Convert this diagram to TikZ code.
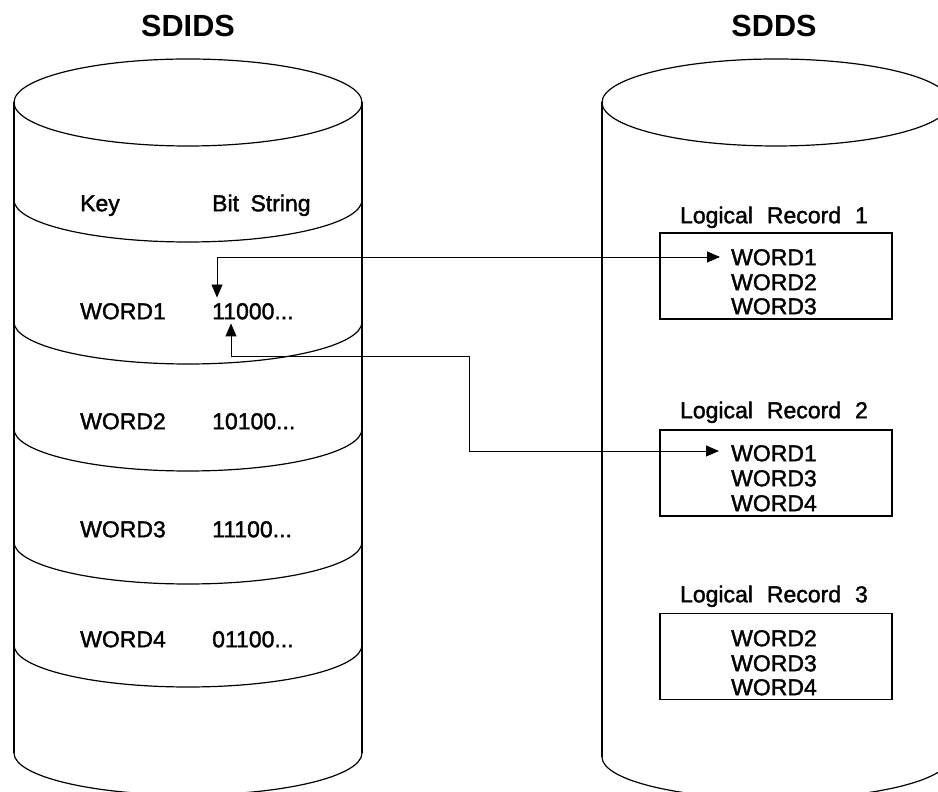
\documentclass[tikz,border=0pt]{standalone}
\usepackage{fontspec}
\setmainfont{Liberation Sans}
\newfontfamily\bodyfont{Liberation Sans}[FakeBold=1.6]
\usetikzlibrary{arrows.meta}
\begin{document}
\begin{tikzpicture}[x=1pt,y=1pt,
  cyl/.style={line width=1.2pt},
  recbox/.style={draw, line width=1.1pt, minimum width=232pt, minimum height=86pt, inner sep=0pt},
  title/.style={font=\fontsize{30.6}{32}\selectfont\bfseries, inner sep=0pt, text height=22pt, text depth=0pt},
  txt/.style={font=\bodyfont\fontsize{23}{25}\selectfont, inner sep=0pt, text height=16.5pt, text depth=0pt},
  link/.style={line width=0.9pt, {Triangle[length=13pt,width=11pt]}-{Triangle[length=13pt,width=11pt]}},
]
\useasboundingbox (0,0) rectangle (938,792);
\clip (0,0) rectangle (938,792);

% titles
\node[title] (tl) at (188,766) {SDIDS};
\node[title] (tr) at (774,766) {SDDS};

% left cylinder (index set)
\draw[cyl] (188,689.5) ellipse[x radius=174pt, y radius=43.5pt];
\draw[cyl] (14,689.5) -- (14,39);
\draw[cyl] (362,689.5) -- (362,39);
\foreach \yy in {592,470,363,250,147,39}
  \draw[cyl] (14,\yy) arc[start angle=180, end angle=360, x radius=174pt, y radius=42pt];

% right cylinder (data set)
\draw[cyl] (776,689.5) ellipse[x radius=174pt, y radius=43.5pt];
\draw[cyl] (602,689.5) -- (602,35);
\draw[cyl] (950,689.5) -- (950,35);
\draw[cyl] (602,35) arc[start angle=180, end angle=360, x radius=174pt, y radius=42pt];

% index rows
\node[txt, anchor=west] (kh) at (80,589) {Key};
\node[txt, anchor=west] (bh) at (212,589) {Bit\hspace{11.5pt}String};
\node[txt, anchor=west] (k1) at (80,481) {WORD1};
\node[txt, anchor=west] (b1) at (212,481) {11000...};
\node[txt, anchor=west] (k2) at (80,371) {WORD2};
\node[txt, anchor=west] (b2) at (212,371) {10100...};
\node[txt, anchor=west] (k3) at (80,263) {WORD3};
\node[txt, anchor=west] (b3) at (212,263) {11100...};
\node[txt, anchor=west] (k4) at (80,153) {WORD4};
\node[txt, anchor=west] (b4) at (212,153) {01100...};

% logical records
\node[txt] (l1) at (774,577) {Logical\hspace{14pt}Record\hspace{14pt}1};
\node[recbox] (rec1) at (776,516) {};
\node[txt] (r1a) at (774,535) {WORD1};
\node[txt] (r1b) at (774,510) {WORD2};
\node[txt] (r1c) at (774,486) {WORD3};

\node[txt] (l2) at (774,382) {Logical\hspace{14pt}Record\hspace{14pt}2};
\node[recbox] (rec2) at (776,319) {};
\node[txt] (r2a) at (774,339) {WORD1};
\node[txt] (r2b) at (774,314) {WORD3};
\node[txt] (r2c) at (774,289) {WORD4};

\node[txt] (l3) at (774,198) {Logical\hspace{14pt}Record\hspace{14pt}3};
\node[recbox] (rec3) at (776,135.5) {};
\node[txt] (r3a) at (774,154) {WORD2};
\node[txt] (r3b) at (774,129) {WORD3};
\node[txt] (r3c) at (774,105) {WORD4};

% pointers between index entry and records
\coordinate (p1s) at ([shift={(5pt,5pt)}]b1.north west);
\coordinate (p1e) at ([xshift=-11pt]r1a.west);
\coordinate (p2s) at ([shift={(19pt,-4pt)}]b1.south west);
\coordinate (p2b) at (469,436);
\coordinate (p2e) at ([shift={(-12pt,2pt)}]r2a.west);
\draw[link] (p1s) |- (p1e);
\draw[link] (p2s) |- (p2b) |- (p2e);
\end{tikzpicture}
\end{document}
